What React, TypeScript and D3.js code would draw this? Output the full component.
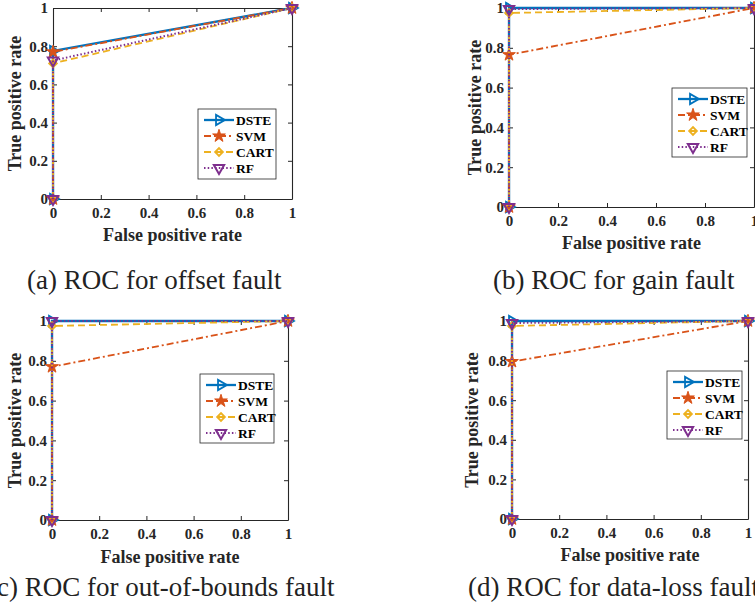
import React, { useEffect, useRef } from 'react'
import * as d3 from 'd3'

// series
const seriesNames = ['DSTE', 'SVM', 'CART', 'RF']
const seriesColors = ['#0072BD', '#D95319', '#EDB120', '#7E2F8E']

// false positive rate points shared by every curve
const fpr = [0, 0, 1]

// true positive rate, one row per series (DSTE, SVM, CART, RF)
const offsetTpr = [[0, 0.775, 1], [0, 0.77, 1], [0, 0.71, 1], [0, 0.725, 1]]
const gainTpr = [[0, 1, 1], [0, 0.765, 1], [0, 0.975, 1], [0, 0.995, 1]]
const boundsTpr = [[0, 1, 1], [0, 0.77, 1], [0, 0.975, 1], [0, 1, 1]]
const lossTpr = [[0, 1, 1], [0, 0.795, 1], [0, 0.975, 1], [0, 0.99, 1]]

const tickValues = [0, 0.2, 0.4, 0.6, 0.8, 1]
const tickLabels = ['0', '0.2', '0.4', '0.6', '0.8', '1']

const captions = [
  '(a) ROC for offset fault',
  '(b) ROC for gain fault',
  '(c) ROC for out-of-bounds fault',
  '(d) ROC for data-loss fault',
]

const AXIS = '#262626'
const SERIF = "'Liberation Serif', 'DejaVu Serif', serif"

// line look per series
const lineStyles = [
  { width: 2.3, dash: null, symbol: 'tri-right' },
  { width: 1.8, dash: '7,3,2,3', symbol: 'star' },
  { width: 1.8, dash: '7,4', symbol: 'diamond' },
  { width: 2, dash: '1.5,2.2', symbol: 'tri-down' },
]

// panel layout
const panels = [
  { tpr: offsetTpr, x0: 53, x1: 292, y0: 8, y1: 199, lx: 198, ly: 109, lw: 78, lh: 70, ylx: 15, xly: 241, capX: 27, capY: 289 },
  { tpr: gainTpr, x0: 509, x1: 754, y0: 8, y1: 207, lx: 672, ly: 88, lw: 75, lh: 69, ylx: 475, xly: 249, capX: 493, capY: 289 },
  { tpr: boundsTpr, x0: 52, x1: 288, y0: 321, y1: 520, lx: 200, ly: 374, lw: 74, lh: 69, ylx: 15, xly: 563, capX: -12, capY: 596 },
  { tpr: lossTpr, x0: 512, x1: 748, y0: 321, y1: 519, lx: 667, ly: 371, lw: 75, lh: 68, ylx: 472, xly: 561, capX: 468, capY: 596 },
]

const drawMarker = (g, kind, cx, cy, color) => {
  if (kind === 'tri-right') {
    g.append('path')
      .attr('d', d3.symbol(d3.symbolTriangle, 46)())
      .attr('transform', `translate(${cx},${cy}) rotate(90)`)
      .attr('fill', 'none').attr('stroke', color).attr('stroke-width', 1.8)
  } else if (kind === 'tri-down') {
    g.append('path')
      .attr('d', d3.symbol(d3.symbolTriangle, 46)())
      .attr('transform', `translate(${cx},${cy}) rotate(180)`)
      .attr('fill', 'none').attr('stroke', color).attr('stroke-width', 2)
  } else if (kind === 'star') {
    g.append('path')
      .attr('d', d3.symbol(d3.symbolStar, 50)())
      .attr('transform', `translate(${cx},${cy})`)
      .attr('fill', color).attr('stroke', color).attr('stroke-width', 1)
  } else {
    g.append('path')
      .attr('d', d3.symbol(d3.symbolSquare, 30)())
      .attr('transform', `translate(${cx},${cy}) rotate(45)`)
      .attr('fill', 'none').attr('stroke', color).attr('stroke-width', 1.8)
  }
}

const App = () => {
  const ref = useRef(null)

  useEffect(() => {
    const svg = d3.select(ref.current)
    svg.selectAll('*').remove()

    panels.forEach((p, pi) => {
      const g = svg.append('g')
      const x = d3.scaleLinear().domain([0, 1]).range([p.x0, p.x1])
      const y = d3.scaleLinear().domain([0, 1]).range([p.y1, p.y0])

      const styleAxis = sel => {
        sel.attr('font-family', null).attr('font-size', null)
        sel.style('font-family', SERIF).style('font-size', '15px').style('font-weight', 'bold')
        sel.select('.domain').attr('stroke', AXIS).attr('stroke-width', 1.1)
        sel.selectAll('.tick line').attr('stroke', AXIS)
        sel.selectAll('.tick text').attr('fill', AXIS)
      }

      g.append('g')
        .attr('transform', `translate(0,${p.y1})`)
        .call(d3.axisBottom(x).tickValues(tickValues).tickFormat((d, i) => tickLabels[i]).tickSize(-4).tickSizeOuter(0).tickPadding(8))
        .call(styleAxis)
      g.append('g')
        .attr('transform', `translate(${p.x0},0)`)
        .call(d3.axisLeft(y).tickValues(tickValues).tickFormat((d, i) => tickLabels[i]).tickSize(-4).tickSizeOuter(0).tickPadding(5))
        .call(styleAxis)
      g.append('g')
        .attr('transform', `translate(0,${p.y0})`)
        .call(d3.axisTop(x).tickValues(tickValues).tickFormat(() => '').tickSize(-4).tickSizeOuter(0))
        .call(styleAxis)
      g.append('g')
        .attr('transform', `translate(${p.x1},0)`)
        .call(d3.axisRight(y).tickValues(tickValues).tickFormat(() => '').tickSize(-4).tickSizeOuter(0))
        .call(styleAxis)

      const line = d3.line().x(d => x(d[0])).y(d => y(d[1]))

      p.tpr.forEach((vals, si) => {
        const pts = vals.map((v, i) => [fpr[i], v])
        const st = lineStyles[si]
        g.append('path')
          .datum(pts)
          .attr('d', line)
          .attr('fill', 'none')
          .attr('stroke', seriesColors[si])
          .attr('stroke-width', st.width)
          .attr('stroke-dasharray', st.dash)
        pts.forEach(d => drawMarker(g, st.symbol, x(d[0]), y(d[1]), seriesColors[si]))
      })

      // axis titles
      g.append('text')
        .attr('x', (p.x0 + p.x1) / 2)
        .attr('y', p.xly)
        .attr('text-anchor', 'middle')
        .style('font-family', SERIF).style('font-size', '18px').style('font-weight', 'bold')
        .attr('fill', AXIS)
        .text('False positive rate')
      g.append('text')
        .attr('transform', `translate(${p.ylx + 6},${(p.y0 + p.y1) / 2}) rotate(-90)`)
        .attr('text-anchor', 'middle')
        .style('font-family', SERIF).style('font-size', '18px').style('font-weight', 'bold')
        .attr('fill', AXIS)
        .text('True positive rate')

      // legend
      const lg = g.append('g').attr('transform', `translate(${p.lx},${p.ly})`)
      lg.append('rect')
        .attr('width', p.lw).attr('height', p.lh)
        .attr('fill', '#fff').attr('stroke', AXIS).attr('stroke-width', 0.8)
      seriesNames.forEach((name, si) => {
        const ry = 11 + si * 16
        const st = lineStyles[si]
        lg.append('line')
          .attr('x1', 6).attr('x2', 36).attr('y1', ry).attr('y2', ry)
          .attr('stroke', seriesColors[si])
          .attr('stroke-width', st.width)
          .attr('stroke-dasharray', st.dash)
        drawMarker(lg, st.symbol, 21, ry, seriesColors[si])
        lg.append('text')
          .attr('x', 38).attr('y', ry).attr('dy', '0.35em')
          .style('font-family', SERIF).style('font-size', '13.5px').style('font-weight', 'bold')
          .attr('fill', '#000')
          .text(name)
      })

      // caption
      svg.append('text')
        .attr('x', p.capX).attr('y', p.capY)
        .style('font-family', SERIF)
        .style('font-size', '27px')
        .attr('fill', '#222')
        .text(captions[pi])
    })
  }, [])

  return (
    <svg
      ref={ref}
      width={755}
      height={612}
      style={{ position: 'absolute', left: 0, top: 0, background: '#fff' }}
    ></svg>
  )
}

export default App
